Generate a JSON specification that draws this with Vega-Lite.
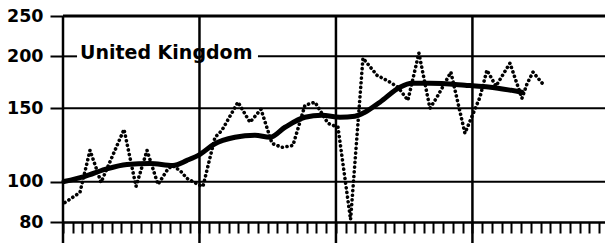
{
  "$schema": "https://vega.github.io/schema/vega-lite/v6.json",
  "autosize": "none",
  "width": 542,
  "height": 206,
  "padding": {"left": 63, "top": 16, "right": 0, "bottom": 21},
  "background": "white",
  "config": {"view": {"stroke": null}},
  "datasets": {
    "obs": [
      {"t": 0.2, "v": 89.1}, {"t": 1.74, "v": 94.2}, {"t": 2.77, "v": 118.9}, {"t": 3.38, "v": 108.2},
      {"t": 3.9, "v": 99.6}, {"t": 6.26, "v": 133.5}, {"t": 7.49, "v": 97.4}, {"t": 8.62, "v": 118.9},
      {"t": 9.74, "v": 98.5}, {"t": 10.67, "v": 106.4}, {"t": 11.18, "v": 109.4}, {"t": 12.0, "v": 106.4},
      {"t": 12.72, "v": 101.8}, {"t": 14.05, "v": 97.9}, {"t": 14.36, "v": 97.4}, {"t": 15.59, "v": 127.8},
      {"t": 16.3, "v": 132.8}, {"t": 17.95, "v": 155.2}, {"t": 19.18, "v": 138.9}, {"t": 20.31, "v": 149.2},
      {"t": 21.44, "v": 123.6}, {"t": 22.46, "v": 120.9}, {"t": 23.59, "v": 122.2}, {"t": 24.82, "v": 152.6},
      {"t": 25.85, "v": 155.2}, {"t": 27.18, "v": 138.1}, {"t": 28.21, "v": 135.1}, {"t": 29.5, "v": 81.1},
      {"t": 30.77, "v": 198.1}, {"t": 32.2, "v": 180.2}, {"t": 33.54, "v": 173.4}, {"t": 34.36, "v": 168.6},
      {"t": 35.38, "v": 156.8}, {"t": 36.51, "v": 203.6}, {"t": 37.64, "v": 150.1}, {"t": 38.36, "v": 159.5},
      {"t": 39.79, "v": 183.3}, {"t": 41.23, "v": 130.7}, {"t": 42.77, "v": 159.5}, {"t": 43.49, "v": 185.3},
      {"t": 44.41, "v": 169.6}, {"t": 45.85, "v": 192.6}, {"t": 47.08, "v": 158.6}, {"t": 47.59, "v": 171.5},
      {"t": 48.21, "v": 183.3}, {"t": 48.72, "v": 177.3}, {"t": 49.33, "v": 170.5}
    ],
    "trend": [
      {"t": 0.1, "v": 100.1}, {"t": 2.26, "v": 103.0}, {"t": 4.31, "v": 107.0}, {"t": 6.56, "v": 110.0},
      {"t": 8.92, "v": 110.6}, {"t": 11.28, "v": 109.4}, {"t": 12.72, "v": 112.5}, {"t": 14.05, "v": 116.3},
      {"t": 15.49, "v": 123.0}, {"t": 17.64, "v": 127.8}, {"t": 19.69, "v": 129.3}, {"t": 21.23, "v": 127.8},
      {"t": 22.77, "v": 135.1}, {"t": 24.82, "v": 142.8}, {"t": 26.56, "v": 144.4}, {"t": 28.41, "v": 142.8},
      {"t": 29.95, "v": 143.6}, {"t": 30.97, "v": 146.8}, {"t": 32.51, "v": 155.2}, {"t": 34.56, "v": 168.6},
      {"t": 35.79, "v": 172.4}, {"t": 37.64, "v": 172.4}, {"t": 41.23, "v": 170.5}, {"t": 44.62, "v": 167.7},
      {"t": 47.08, "v": 164.0}
    ],
    "hgrid": [
      {"v": 200, "t": 0, "t2": 1.44}, {"v": 200, "t": 20.0, "t2": 55.6},
      {"v": 150, "t": 0, "t2": 55.6}, {"v": 100, "t": 0, "t2": 55.6}
    ],
    "top": [{"v": 250, "t": 0, "t2": 55.6}],
    "vgrid": [
      {"t": 0, "v": 70, "v2": 250}, {"t": 14, "v": 70, "v2": 250},
      {"t": 28, "v": 70, "v2": 250}, {"t": 42, "v": 70, "v2": 250}
    ],
    "label": [{"t": 1.74, "v": 200, "label": "United Kingdom"}]
  },
  "encoding": {
    "x": {
      "field": "t", "type": "quantitative",
      "scale": {"domain": [0, 55.6], "nice": false, "zero": false},
      "axis": {
        "title": null, "labels": false, "grid": false,
        "values": [0,1,2,3,4,5,6,7,8,9,10,11,12,13,14,15,16,17,18,19,20,21,22,23,24,25,26,27,28,29,30,31,32,33,34,35,36,37,38,39,40,41,42,43,44,45,46,47,48,49,50,51,52,53,54,55],
        "domain": true, "domainColor": "black", "domainWidth": 2.5,
        "ticks": true, "tickSize": 11, "tickWidth": 2, "tickColor": "black"
      }
    },
    "y": {
      "field": "v", "type": "quantitative",
      "scale": {"type": "log", "domain": [80, 250], "nice": false, "zero": false},
      "axis": {
        "title": null, "grid": false, "domain": false,
        "values": [80, 100, 150, 200, 250],
        "tickSize": 13, "tickWidth": 2, "tickColor": "black",
        "labelFont": "DejaVu Sans", "labelFontWeight": "bold", "labelFontSize": 17.5,
        "labelColor": "black", "labelPadding": 7, "labelFlush": false, "labelBound": false,
        "labelOverlap": false, "format": "d"
      }
    }
  },
  "layer": [
    {
      "data": {"name": "hgrid"},
      "mark": {"type": "rule", "color": "black", "strokeWidth": 2},
      "encoding": {"x2": {"field": "t2"}}
    },
    {
      "data": {"name": "top"},
      "mark": {"type": "rule", "color": "black", "strokeWidth": 3},
      "encoding": {"x2": {"field": "t2"}}
    },
    {
      "data": {"name": "vgrid"},
      "mark": {"type": "rule", "color": "black", "strokeWidth": 2.5},
      "encoding": {"y2": {"field": "v2"}}
    },
    {
      "data": {"name": "obs"},
      "mark": {"type": "line", "color": "black", "strokeWidth": 3.6, "strokeDash": [0.1, 4.6], "strokeCap": "round", "strokeJoin": "round"},
      "encoding": {}
    },
    {
      "data": {"name": "trend"},
      "mark": {"type": "line", "color": "black", "strokeWidth": 5, "strokeCap": "round", "strokeJoin": "round", "interpolate": "monotone"},
      "encoding": {}
    },
    {
      "data": {"name": "label"},
      "mark": {"type": "text", "align": "left", "baseline": "alphabetic", "dy": 3, "font": "DejaVu Sans", "fontWeight": "bold", "fontSize": 19, "color": "black"},
      "encoding": {"text": {"field": "label"}}
    }
  ]
}
